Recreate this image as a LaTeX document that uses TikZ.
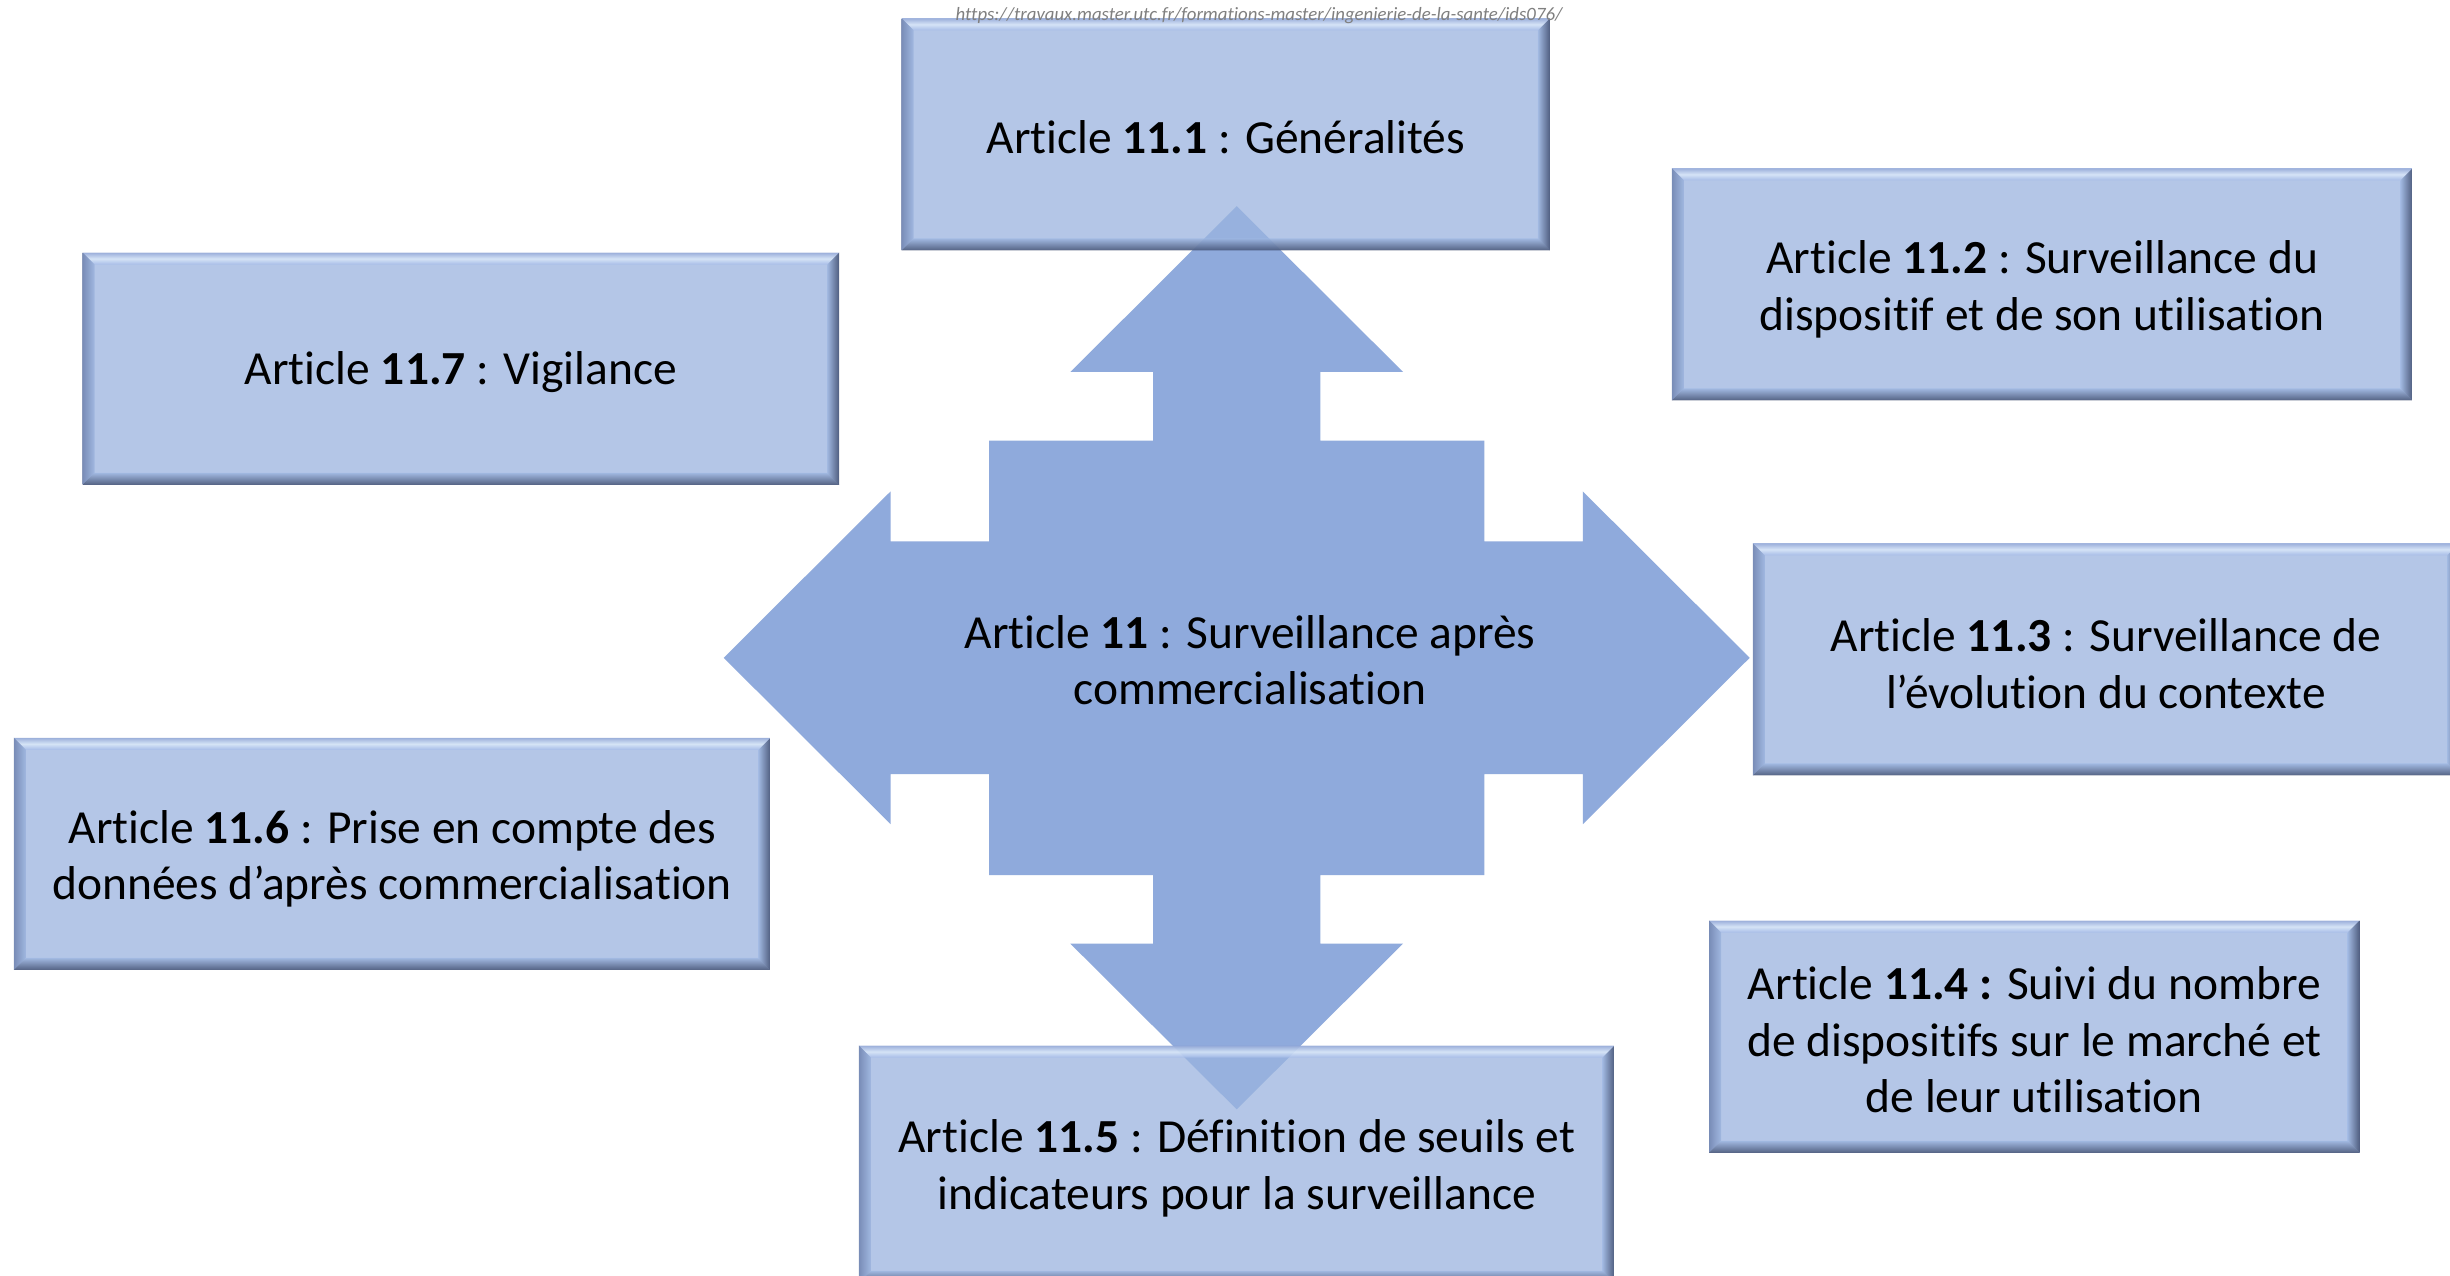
\documentclass[tikz,border=0pt]{standalone}
\usepackage{fontspec}
\setmainfont{Carlito}[Ligatures=NoCommon]
\usetikzlibrary{calc}

% colours of the cross-shaped arrow and of the bevelled boxes
\definecolor{arrowblue}{RGB}{143,170,220}
\definecolor{boxbase}{RGB}{155,180,223}
\definecolor{bvtop}{RGB}{148,168,215}
\definecolor{bvhi}{RGB}{225,238,252}
\definecolor{bvtopin}{RGB}{162,184,232}
\definecolor{bvleft}{RGB}{102,122,168}
\definecolor{bvright}{RGB}{45,58,92}
\definecolor{bvbot}{RGB}{52,65,98}
\definecolor{urlgrey}{RGB}{128,128,128}

\newcommand\artfont{\fontsize{13.5}{16.1}\selectfont}
\newcommand\urlfont{\fontsize{5.35}{6}\selectfont\itshape}

\tikzset{
  bevelbox/.style={
    rectangle, inner sep=0pt, minimum height=2.32cm,
    fill=boxbase, fill opacity=0.75,
    path picture={
      \coordinate (pnw) at (path picture bounding box.north west);
      \coordinate (pne) at (path picture bounding box.north east);
      \coordinate (psw) at (path picture bounding box.south west);
      \coordinate (pse) at (path picture bounding box.south east);
      % top bevel with a pale highlight
      \shade[fill opacity=0.75, top color=bvtop, bottom color=bvtopin, middle color=bvhi]
        (pnw) -- (pne) -- ($(pne)+(-12,12)$) -- ($(pnw)+(12,12)$) -- cycle;
      % left bevel
      \shade[fill opacity=0.75, left color=bvleft, right color=boxbase]
        (pnw) -- ($(pnw)+(12,12)$) -- ($(psw)+(12,-12)$) -- (psw) -- cycle;
      % right bevel
      \shade[fill opacity=0.75, left color=boxbase, right color=bvright]
        (pne) -- (pse) -- ($(pse)+(-12,-12)$) -- ($(pne)+(-12,12)$) -- cycle;
      % bottom bevel
      \shade[fill opacity=0.75, top color=boxbase, bottom color=bvbot]
        (psw) -- ($(psw)+(12,-12)$) -- ($(pse)+(-12,-12)$) -- (pse) -- cycle;
    }
  },
  boxtext/.style={align=center, font=\artfont, inner sep=0pt},
  urllabel/.style={font=\urlfont, text=urlgrey, inner sep=0pt}
}

\begin{document}
\begin{tikzpicture}[x=0.01cm, y=-0.01cm]
  \useasboundingbox (0,0) rectangle (2450,1276);
  \clip (0,0) rectangle (2450,1276);
  \fill[white] (0,0) rectangle (2450,1276);

  % four-way arrow in the middle
  \fill[arrowblue, shift={(1236.7,657.8)}]
    (0,-451.6) -- (166.4,-285.8) -- (83.6,-285.8) -- (83.6,-217.2)
    -- (247.7,-217.2) -- (247.7,-116.4) -- (346.1,-116.4) -- (346.1,-166.4)
    -- (513,0) -- (346.1,166.4) -- (346.1,116.4) -- (247.7,116.4)
    -- (247.7,217.2) -- (83.6,217.2) -- (83.6,285.8) -- (166.4,285.8)
    -- (0,451.6) -- (-166.4,285.8) -- (-83.6,285.8) -- (-83.6,217.2)
    -- (-247.7,217.2) -- (-247.7,116.4) -- (-346.1,116.4) -- (-346.1,166.4)
    -- (-513,0) -- (-346.1,-166.4) -- (-346.1,-116.4) -- (-247.7,-116.4)
    -- (-247.7,-217.2) -- (-83.6,-217.2) -- (-83.6,-285.8) -- (-166.4,-285.8)
    -- cycle;
  \node[boxtext] (hub) at (1250,660)
    {Article \textbf{11} : Surveillance après\\commercialisation};

  % article boxes, each with its text a little below the centre
  \node[bevelbox, minimum width=6.48cm] (a1) at (1225.8,134.4) {};
  \node[boxtext] (a1-text) at ($(a1.center)+(0,3)$)
    {Article \textbf{11.1} : Généralités};

  \node[bevelbox, minimum width=7.40cm] (a2) at (2042.2,284.4) {};
  \node[boxtext] (a2-text) at ($(a2.center)+(0,5)$)
    {Article \textbf{11.2} : Surveillance du\\dispositif et de son utilisation};

  \node[bevelbox, minimum width=7.06cm] (a3) at (2106,659.4) {};
  \node[boxtext] (a3-text) at ($(a3.center)+(0,4)$)
    {Article \textbf{11.3} : Surveillance de\\l’évolution du contexte};

  \node[bevelbox, minimum width=6.50cm] (a4) at (2034.4,1036.7) {};
  \node[boxtext] (a4-text) at ($(a4.center)+(0,3)$)
    {Article \textbf{11.4 :} Suivi du nombre\\de dispositifs sur le marché et\\de leur utilisation};

  \node[bevelbox, minimum width=7.55cm, minimum height=2.37cm] (a5) at (1236.7,1164.2) {};
  \node[boxtext] (a5-text) at ($(a5.center)+(0,4)$)
    {Article \textbf{11.5} : Définition de seuils et\\indicateurs pour la surveillance};

  \node[bevelbox, minimum width=7.56cm] (a6) at (392.2,853.9) {};
  \node[boxtext] (a6-text) at ($(a6.center)+(0,5)$)
    {Article \textbf{11.6} : Prise en compte des\\données d’après commercialisation};

  \node[bevelbox, minimum width=7.56cm] (a7) at (460.9,368.7) {};
  \node[boxtext] (a7-text) at ($(a7.center)+(0,3)$)
    {Article \textbf{11.7} : Vigilance};

  % source address above the first box
  \node[urllabel] (src) at (1259,16)
    {https://travaux.master.utc.fr/formations-master/ingenierie-de-la-sante/ids076/};
\end{tikzpicture}
\end{document}
